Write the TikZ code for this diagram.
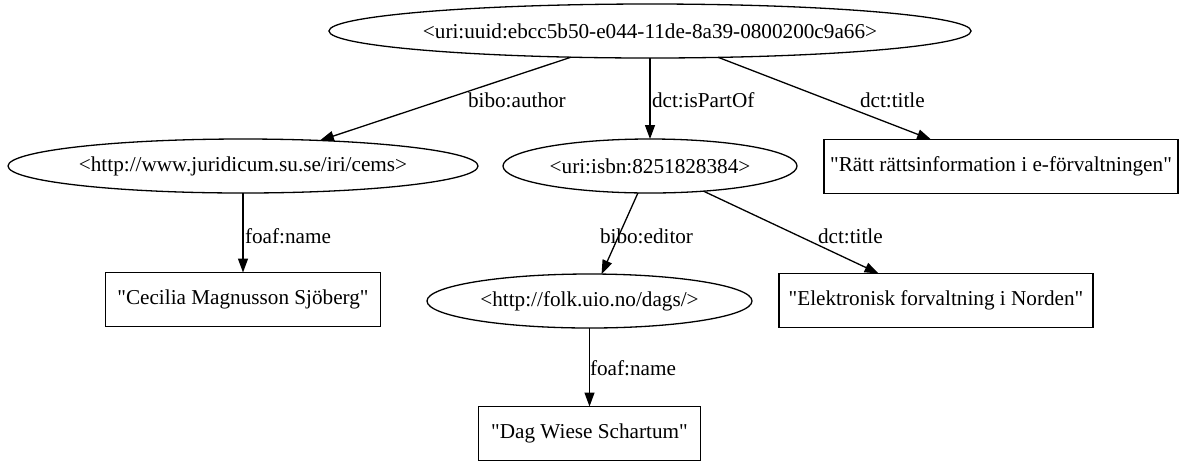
\documentclass[tikz,border=0pt]{standalone}
\usepackage{fontspec}
\setmainfont{Liberation Serif}[Ligatures=TeXOff]
\usetikzlibrary{shapes.geometric,arrows.meta}
\begin{document}
\begin{tikzpicture}[x=0.5pt,y=-0.5pt,
  every node/.style={font=\fontsize{10.6}{12}\selectfont, inner sep=0pt, outer sep=0pt},
  res/.style={draw, ellipse, minimum height=27pt, line width=0.65pt},
  lit/.style={draw, rectangle, minimum height=27pt, line width=0.65pt},
  edge/.style={draw, line width=0.65pt, -{Triangle[length=7pt,width=5pt]}},
  lbl/.style={anchor=west}]
\useasboundingbox (0,0) rectangle (1182,462);
\node[res, minimum width=315pt] (root) at (650,31) {<uri:uuid:ebcc5b50-e044-11de-8a39-0800200c9a66>};
\node[res, minimum width=235pt] (cems) at (243,166) {<http://www.juridicum.su.se/iri/cems>};
\node[res, minimum width=147pt] (isbn) at (650,166) {<uri:isbn:8251828384>};
\node[lit, minimum width=177pt] (ratt) at (1001,166.5) {"Rätt rättsinformation i e-förvaltningen"};
\node[lit, minimum width=137.5pt] (cecilia) at (243,299.5) {"Cecilia Magnusson Sjöberg"};
\node[res, minimum width=162.5pt] (folk) at (589.5,301) {<http://folk.uio.no/dags/>};
\node[lit, minimum width=157pt] (elek) at (936,300.5) {"Elektronisk forvaltning i Norden"};
\node[lit, minimum width=111pt] (dag) at (589.5,433.5) {"Dag Wiese Schartum"};
\draw[edge] (root) -- (cems);
\draw[edge] (root) -- (isbn);
\draw[edge] (root) -- (ratt);
\draw[edge] (cems) -- (cecilia);
\draw[edge] (isbn) -- (folk);
\draw[edge] (isbn) -- (elek);
\draw[edge] (folk) -- (dag);
\node[lbl] (l1) at (468,100) {bibo:author};
\node[lbl] (l2) at (652,100) {dct:isPartOf};
\node[lbl] (l3) at (860,100) {dct:title};
\node[lbl] (l4) at (245,236) {foaf:name};
\node[lbl] (l5) at (600,236) {bibo:editor};
\node[lbl] (l6) at (818,236) {dct:title};
\node[lbl] (l7) at (590,368) {foaf:name};
\end{tikzpicture}
\end{document}
